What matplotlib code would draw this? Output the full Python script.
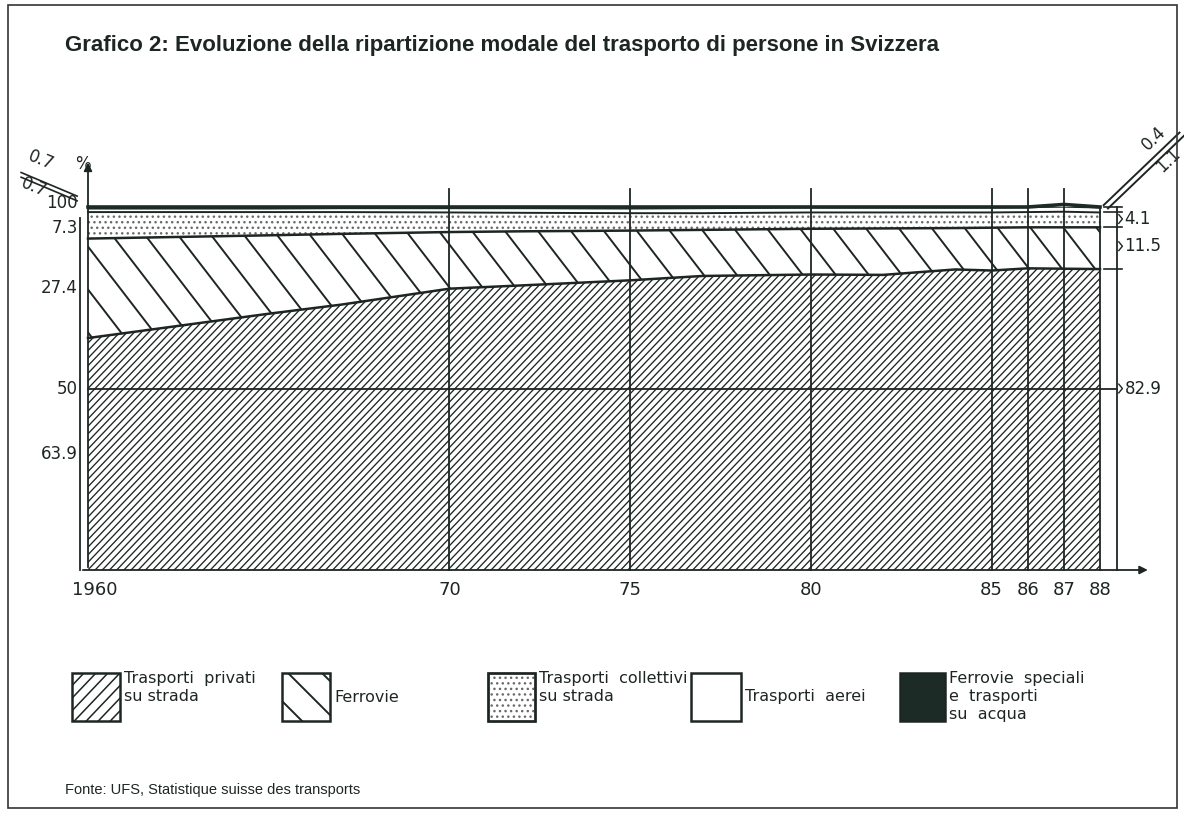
import numpy as np
import matplotlib
matplotlib.use("Agg")
import matplotlib.pyplot as plt
from matplotlib.lines import Line2D
from matplotlib.patches import Rectangle

W, H = 1184, 817
INK = "#1e2622"
DARK = "#1d2b26"
DOTS = "#6a6a6a"

# quote (%)
years = [1960, 1965, 1967, 1970, 1972, 1975, 1977, 1980, 1982, 1984, 1985, 1986, 1987, 1988]
privati = [63.9, 70.6, 73.1, 77.5, 78.4, 79.8, 81.0, 81.4, 81.3, 82.8, 82.5, 83.1, 83.0, 82.9]
ferrovie = [27.4, 21.6, 19.5, 15.6, 14.9, 13.7, 12.7, 12.6, 12.8, 11.4, 11.8, 11.3, 11.4, 11.5]
collettivi = [7.3, 6.4, 6.0, 5.4, 5.1, 4.8, 4.6, 4.5, 4.4, 4.3, 4.2, 4.2, 4.3, 4.1]
aerei = [0.7, 0.7, 0.8, 0.9, 1.0, 1.0, 1.1, 1.1, 1.1, 1.1, 1.1, 1.1, 1.1, 1.1]
speciali = [0.7, 0.7, 0.6, 0.6, 0.6, 0.7, 0.6, 0.4, 0.4, 0.4, 0.4, 0.3, 0.9, 0.4]

grid_years = [1970, 1975, 1980, 1985, 1986, 1987]
xlabels = ["1960", "70", "75", "80", "85", "86", "87", "88"]
xlabel_pos = [1960.2, 1970, 1975, 1980, 1985, 1986, 1987, 1988]
left_labels = ["100", "7.3", "27.4", "50", "63.9"]
left_pos = [101, 94.2, 77.6, 50, 32]
right_labels = ["4.1", "11.5", "82.9"]
right_pos = [96.7, 89.2, 50]

plt.rcParams["font.family"] = ["DejaVu Sans"]
fig = plt.figure(figsize=(W / 100, H / 100), dpi=100)
ax = fig.add_axes([88 / W, 1 - 570 / H, (1100 - 88) / W, (570 - 207) / H])
ax.set_xlim(1960, 1988)
ax.set_ylim(0, 100)
ax.axis("off")

c1 = np.array(privati)
c2 = c1 + np.array(ferrovie)
c3 = c2 + np.array(collettivi)
c4 = c3 + np.array(aerei)
c5 = c4 + np.array(speciali)

p1 = ax.fill_between(years, 0, c1, facecolor="white", lw=0)
p2 = ax.fill_between(years, c1, c2, facecolor="white", lw=0)
p3 = ax.fill_between(years, c2, c3, facecolor="white", hatch="...", edgecolor=DOTS, lw=0)
p4 = ax.fill_between(years, c3, c4, facecolor="white", lw=0)
p5 = ax.fill_between(years, c4, c5, facecolor=DARK, lw=0)


def hatch_lines(box, slope, step, lw, clip, trans=None):
    # linee di tratteggio in pixel, ritagliate sulla forma
    x0, y0, x1, y1 = box
    dx = (y1 - y0) / slope
    for xs in np.arange(x0 - abs(dx) - step, x1 + abs(dx) + step, step):
        ln = Line2D([xs / W, (xs + dx) / W], [y0 / H, y1 / H],
                    transform=fig.transFigure, color=INK, lw=lw)
        if trans is None:
            ln.set_clip_path(clip)
        else:
            ln.set_clip_path(clip, trans)
        fig.add_artist(ln)


axbox = ax.bbox.extents
hatch_lines(axbox, 1.05, 7.2, 0.95, p1.get_paths()[0], ax.transData)
hatch_lines(axbox, -1.3, 33, 1.4, p2.get_paths()[0], ax.transData)

for c in (c1, c2):
    ax.plot(years, c, color=INK, lw=1.8, clip_on=False)
ax.plot(years, c3, color=INK, lw=1.4, clip_on=False)
ax.plot(years, c5, color=DARK, lw=2.6, clip_on=False)

kw = dict(color=INK, lw=1.3, clip_on=False)
for y in grid_years:
    ax.plot([y, y], [0, 105], **kw)
ax.plot([1988, 1988], [0, 100], **kw)
ax.plot([1960, 1988.47], [50, 50], **kw)
ax.plot([1988.47, 1988.47], [0, 100], **kw)
ax.plot([1959.78, 1959.78], [0, 97], **kw)
for v in (100, c3[-1], c2[-1], c1[-1]):
    ax.plot([1988.1, 1988.6], [v, v], color=INK, lw=1.2, clip_on=False)

ax.annotate("", xy=(1960, 113), xytext=(1960, 0), annotation_clip=False,
            arrowprops=dict(arrowstyle="-|>", lw=1.3, color=INK, mutation_scale=12))
ax.annotate("", xy=(1989.4, 0), xytext=(1959.78, 0), annotation_clip=False,
            arrowprops=dict(arrowstyle="-|>", lw=1.3, color=INK, mutation_scale=12))

# etichette assi
for t, x in zip(xlabels, xlabel_pos):
    ax.text(x, -5.5, t, ha="center", va="center", fontsize=13, color=INK)
for t, y in zip(left_labels, left_pos):
    ax.text(1959.72, y, t, ha="right", va="center", fontsize=12, color=INK)
for t, y in zip(right_labels, right_pos):
    ax.plot([1988.52, 1988.62, 1988.52], [y + 1.2, y, y - 1.2], color=INK, lw=1, clip_on=False)
    ax.text(1988.68, y, t, ha="left", va="center", fontsize=12, color=INK)

# doppie linee oblique
ax.plot([1958.15, 1959.7], [109.5, 103.0], color=INK, lw=1.2, clip_on=False)
ax.plot([1958.15, 1959.7], [108.2, 101.7], color=INK, lw=1.2, clip_on=False)
ax.text(1958.7, 113.0, "0.7", rotation=-22, ha="center", va="center", fontsize=12, color=INK)
ax.text(1959.85, 111.8, "%", ha="center", va="center", fontsize=12, color=INK)
ax.text(1958.5, 105.5, "0.7", rotation=-22, ha="center", va="center", fontsize=12, color=INK)

ax.plot([1988.1, 1990.2], [100.5, 120.5], color=INK, lw=1.4, clip_on=False)
ax.plot([1988.22, 1990.32], [99.6, 119.6], color=INK, lw=1.4, clip_on=False)
ax.text(1989.5, 118.8, "0.4", rotation=44, ha="center", va="center", fontsize=12, color=INK)
ax.text(1989.9, 113.0, "1.1", rotation=44, ha="center", va="center", fontsize=12, color=INK)

# legenda
legend = [
    ((72, 120), "Trasporti  privati\nsu strada", "top"),
    ((282, 330), "Ferrovie", "center"),
    ((488, 535), "Trasporti  collettivi\nsu strada", "top"),
    ((691, 741), "Trasporti  aerei", "center"),
    ((900, 945), "Ferrovie  speciali\ne  trasporti\nsu  acqua", "top"),
]
ytop, ybot = H - 673, H - 721
for i, ((xa, xb), label, va) in enumerate(legend):
    fc = DARK if i == 4 else "white"
    rect = Rectangle((xa / W, ybot / H), (xb - xa) / W, (ytop - ybot) / H,
                     transform=fig.transFigure, facecolor=fc, edgecolor=INK, lw=1.8)
    if i == 2:
        rect.set_hatch("...")
        rect.set_edgecolor(DOTS)
        fig.add_artist(rect)
        fig.add_artist(Rectangle((xa / W, ybot / H), (xb - xa) / W, (ytop - ybot) / H,
                                 transform=fig.transFigure, facecolor="none",
                                 edgecolor=INK, lw=1.8))
    else:
        fig.add_artist(rect)
    if i == 0:
        hatch_lines((xa, ybot, xb, ytop), 1.05, 12, 1.1, rect)
    if i == 1:
        hatch_lines((xa, ybot, xb, ytop), -1.0, 34, 1.4, rect)
    ty = ytop + 2 if va == "top" else (ytop + ybot) / 2
    fig.text((xb + 4) / W, ty / H, label, ha="left", va=va, fontsize=11.5,
             color=INK, linespacing=1.25)

narrow = ["Liberation Sans Narrow", "Liberation Sans", "DejaVu Sans"]
fig.text(65 / W, 1 - 45 / H,
         "Grafico 2: Evoluzione della ripartizione modale del trasporto di persone in Svizzera",
         ha="left", va="center", fontsize=16, weight="bold", family=narrow, color=INK)
fig.text(65 / W, 1 - 790 / H, "Fonte: UFS, Statistique suisse des transports",
         ha="left", va="center", fontsize=10.5, family=narrow, color=INK)

fig.add_artist(Rectangle((8 / W, 1 - 808 / H), (1177 - 8) / W, (808 - 5) / H,
                         transform=fig.transFigure, facecolor="none", edgecolor="#333333", lw=1.2))

fig.savefig("out.png", dpi=100)
